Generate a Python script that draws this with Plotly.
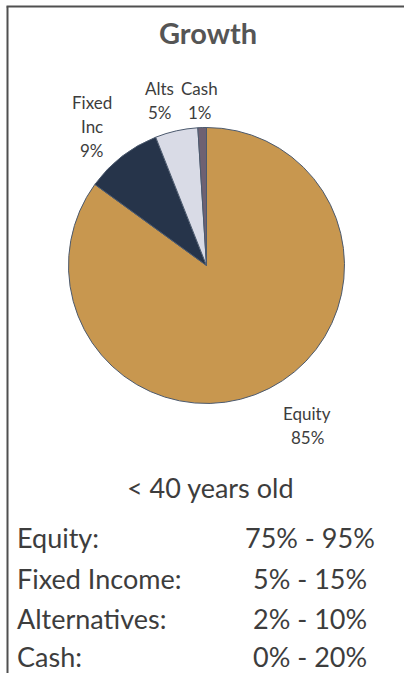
import plotly.graph_objects as go

W, H = 404, 673

# Allocation data
categories = ["Equity", "Fixed Inc", "Alts", "Cash"]
weights = [85, 9, 5, 1]
slice_colors = ["#C8974F", "#26344A", "#D9DBE6", "#6E6172"]

# Target ranges table
range_labels = ["Equity:", "Fixed Income:", "Alternatives:", "Cash:"]
range_values = ["75% - 95%", "5% - 15%", "2% - 10%", "0% - 20%"]

title_text = "Growth"
subtitle_text = "< 40 years old"

FONT = "Lato"
TEXT = "#3d3d3d"


def px(x):
    return x / W


def py(y):
    return 1 - y / H


# pie geometry (pixels)
cx, cy, r = 206.5, 265.5, 138

fig = go.Figure(
    go.Pie(
        labels=categories,
        values=weights,
        sort=False,
        direction="clockwise",
        rotation=0,
        marker=dict(colors=slice_colors, line=dict(color="#4c5a6e", width=1)),
        textinfo="none",
        hoverinfo="label+percent",
        showlegend=False,
        domain=dict(x=[px(cx - r), px(cx + r)], y=[py(cy + r), py(cy - r)]),
    )
)

annotations = []


def add_text(text, x, y, size, color=TEXT, xanchor="center", bold=False):
    if bold:
        text = f"<b>{text}</b>"
    annotations.append(
        dict(
            text=text,
            x=px(x),
            y=py(y),
            xref="paper",
            yref="paper",
            xanchor=xanchor,
            yanchor="middle",
            showarrow=False,
            font=dict(family=FONT, size=size, color=color),
        )
    )


add_text(title_text, 208, 32, 29, color="#555555", bold=True)

# slice labels: each line drawn on its own, 24 px apart
label_pos = {
    "Equity": (307, 413),
    "Fixed Inc": (92, 102),
    "Alts": (159.5, 89),
    "Cash": (199.5, 89),
}
LINE_GAP = 24
for name, v in zip(categories, weights):
    x, y0 = label_pos[name]
    lines = name.split(" ") + [f"{v}%"]
    for i, line in enumerate(lines):
        add_text(line, x, y0 + i * LINE_GAP, 17)

add_text(subtitle_text, 210, 487, 27)

row_y = [537, 578, 618, 656]
for lab, val, y in zip(range_labels, range_values, row_y):
    add_text(lab, 15, y, 27, xanchor="left")
    add_text(val, 310, y, 27)

shapes = [
    dict(type="line", xref="paper", yref="paper",
         x0=px(7.5), y0=py(6.5), x1=px(7.5), y1=py(H + 2),
         line=dict(color="#505050", width=2)),
    dict(type="line", xref="paper", yref="paper",
         x0=px(6.5), y0=py(6.5), x1=px(W + 2), y1=py(6.5),
         line=dict(color="#505050", width=2)),
]

fig.update_layout(
    width=W,
    height=H,
    margin=dict(l=0, r=0, t=0, b=0),
    paper_bgcolor="white",
    plot_bgcolor="white",
    annotations=annotations,
    shapes=shapes,
)

fig.write_html("out.html", config=dict(displayModeBar=False))
